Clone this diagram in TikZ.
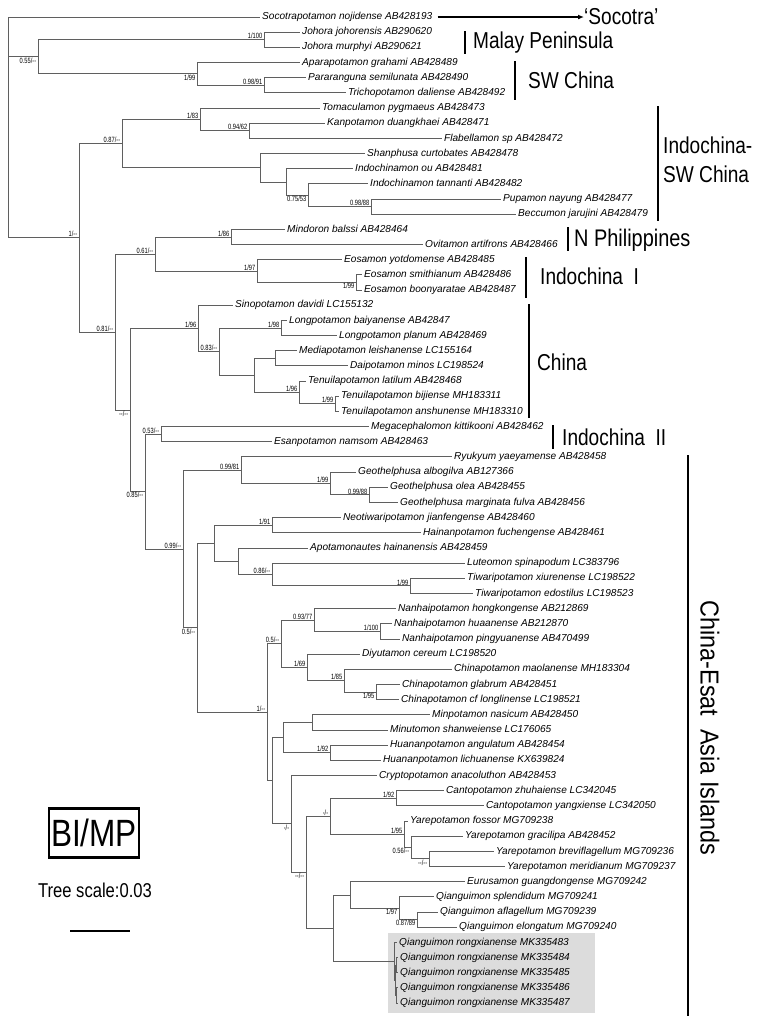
\documentclass[tikz,border=0pt]{standalone}
\usepackage{fontspec}
\setmainfont{Liberation Sans}
\newfontfamily\narrowsans[FakeStretch=0.83]{Liberation Sans}
\newfontfamily\widesans[FakeStretch=0.9]{Liberation Sans}
\newfontfamily\tinysans[FakeStretch=0.75]{Liberation Sans}
\usetikzlibrary{arrows.meta}
\definecolor{branchgray}{RGB}{95,95,95}
\definecolor{shadegray}{RGB}{220,220,220}

\begin{document}
\begin{tikzpicture}[x=1pt, y=-1pt,
  branch/.style={draw=branchgray, line width=0.9pt},
  taxon/.style={anchor=west, inner sep=2pt, text height=7.4pt, text depth=2.1pt,
    font=\fontsize{10.1}{12}\selectfont\itshape},
  support/.style={anchor=south east, inner sep=0.6pt, xshift=-1pt,
    font=\tinysans\fontsize{7.6}{8}\selectfont},
  supportbelow/.style={support, anchor=north east},
  region/.style={anchor=west, inner sep=0pt, font=\narrowsans\fontsize{23}{29}\selectfont},
  bar/.style={line width=2.4pt}]
  \useasboundingbox (0,0) rectangle (764,1021);
  % Shaded box behind the new sequences
  \fill[shadegray] (388,933) rectangle (595,1013);
  % Tips and taxon names
  \foreach \i/\x/\txt in {
    1/260/{Socotrapotamon nojidense AB428193},
    2/300/{Johora johorensis AB290620},
    3/300/{Johora murphyi AB290621},
    4/300/{Aparapotamon grahami AB428489},
    5/306/{Pararanguna semilunata AB428490},
    6/346/{Trichopotamon daliense AB428492},
    7/320/{Tomaculamon pygmaeus AB428473},
    8/325/{Kanpotamon duangkhaei AB428471},
    9/442/{Flabellamon sp AB428472},
    10/365/{Shanphusa curtobates AB428478},
    11/353/{Indochinamon ou AB428481},
    12/368/{Indochinamon tannanti AB428482},
    13/501/{Pupamon nayung AB428477},
    14/516/{Beccumon jarujini AB428479},
    15/285/{Mindoron balssi AB428464},
    16/423/{Ovitamon artifrons AB428466},
    17/342/{Eosamon yotdomense AB428485},
    18/362/{Eosamon smithianum AB428486},
    19/362/{Eosamon boonyaratae AB428487},
    20/233/{Sinopotamon davidi LC155132},
    21/287/{Longpotamon baiyanense AB42847},
    22/337/{Longpotamon planum AB428469},
    23/297/{Mediapotamon leishanense LC155164},
    24/348/{Daipotamon minos LC198524},
    25/306/{Tenuilapotamon latilum AB428468},
    26/339/{Tenuilapotamon bijiense MH183311},
    27/339/{Tenuilapotamon anshunense MH183310},
    28/369/{Megacephalomon kittikooni AB428462},
    29/272/{Esanpotamon namsom AB428463},
    30/452/{Ryukyum yaeyamense AB428458},
    31/356/{Geothelphusa albogilva AB127366},
    32/388/{Geothelphusa olea AB428455},
    33/398/{Geothelphusa marginata fulva AB428456},
    34/341/{Neotiwaripotamon jianfengense AB428460},
    35/421/{Hainanpotamon fuchengense AB428461},
    36/308/{Apotamonautes hainanensis AB428459},
    37/465/{Luteomon spinapodum LC383796},
    38/465/{Tiwaripotamon xiurenense LC198522},
    39/473/{Tiwaripotamon edostilus LC198523},
    40/396/{Nanhaipotamon hongkongense AB212869},
    41/392/{Nanhaipotamon huaanense AB212870},
    42/400/{Nanhaipotamon pingyuanense AB470499},
    43/360/{Diyutamon cereum LC198520},
    44/452/{Chinapotamon maolanense MH183304},
    45/400/{Chinapotamon glabrum AB428451},
    46/399/{Chinapotamon cf longlinense LC198521},
    47/430/{Minpotamon nasicum AB428450},
    48/388/{Minutomon shanweiense LC176065},
    49/388/{Huananpotamon angulatum AB428454},
    50/381/{Huananpotamon lichuanense KX639824},
    51/377/{Cryptopotamon anacoluthon AB428453},
    52/444/{Cantopotamon zhuhaiense LC342045},
    53/484/{Cantopotamon yangxiense LC342050},
    54/408/{Yarepotamon fossor MG709238},
    55/463/{Yarepotamon gracilipa AB428452},
    56/494/{Yarepotamon breviflagellum MG709236},
    57/505/{Yarepotamon meridianum MG709237},
    58/465/{Eurusamon guangdongense MG709242},
    59/434/{Qianguimon splendidum MG709241},
    60/438/{Qianguimon aflagellum MG709239},
    61/457/{Qianguimon elongatum MG709240},
    62/397/{Qianguimon rongxianense MK335483},
    63/398/{Qianguimon rongxianense MK335484},
    64/398/{Qianguimon rongxianense MK335485},
    65/398/{Qianguimon rongxianense MK335486},
    66/398/{Qianguimon rongxianense MK335487}}
  {
    \coordinate (t\i) at (\x, {17+(\i-1)*15.17});
    \node[taxon] (l\i) at (t\i) {\txt};
  }
  % Internal nodes
  \foreach \n/\x/\y in {root/8/127.4, n055/38/56.8, nJoh/264/39.7, nSW/197/73.9, nPT/264/85.3,
    n1/79/237.8, n087/122/143.6, n183/200/119.4, n094/249/130.8, nShan/260/167.7,
    nIndo/286/182.0, n075/308/195.3, n098/371/206.6,
    n081/115/332.0, n061/155/254.0, n186/231/237.0, n197/257/271.1, n199/356/282.5,
    nDD/130/410.0, nChina/198/328.5, n083/219/351.7, n198/281/328.0, nMT/254/375.4,
    nMD/275/358.3, nTen/299/392.5, nTen2/335/403.8,
    n085/145/491.6, n053/161/434.2, n099/183/549.0, nRG/241/470.2, nGeo/330/483.5,
    nGeo2/369/494.9, n05/197/627.7, nNH/214/543.2, n191/272/525.2, nAL/238/561.2,
    n086/272/574.5, nTiw/410/585.9,
    n1b/267/712.2, n05b/281/643.7, nNan/314/620.0, nNan2/380/631.4, n169/307/667.4,
    n185/344/680.7, n195/376/692.1, nX/272/780.7, nY/283/737.6, nMM/312/722.4,
    n192/330/752.8, nZ/291/823.9, nW/306/872.2, nCY/330/816.3, nCan/396/798.3,
    nYar/404/834.3, n056/411/847.6, nYar2/429/858.9, nV/333/928.2, nEQ/350/895.0,
    n197b/399/908.2, n087b/417/919.6, nRong/394/961.3, nR2/395/980.3,
    nR3/396.5/965.1, nR4/396.5/995.5}
    \coordinate (\n) at (\x,\y);
  % Branches
  \foreach \p/\c in {root/t1, root/n055, root/n1, n055/nJoh, n055/nSW, nJoh/t2, nJoh/t3,
    nSW/t4, nSW/nPT, nPT/t5, nPT/t6,
    n1/n087, n1/n081, n087/n183, n087/nShan, n183/t7, n183/n094, n094/t8, n094/t9,
    nShan/t10, nShan/nIndo, nIndo/t11, nIndo/n075, n075/t12, n075/n098, n098/t13, n098/t14,
    n081/n061, n081/nDD, n061/n186, n061/n197, n186/t15, n186/t16, n197/t17, n197/n199,
    n199/t18, n199/t19,
    nDD/nChina, nDD/n085, nChina/t20, nChina/n083, n083/n198, n083/nMT, n198/t21, n198/t22,
    nMT/nMD, nMT/nTen, nMD/t23, nMD/t24, nTen/t25, nTen/nTen2, nTen2/t26, nTen2/t27,
    n085/n053, n085/n099, n053/t28, n053/t29, n099/nRG, n099/n05, nRG/t30, nRG/nGeo,
    nGeo/t31, nGeo/nGeo2, nGeo2/t32, nGeo2/t33,
    n05/nNH, n05/n1b, nNH/n191, nNH/nAL, n191/t34, n191/t35, nAL/t36, nAL/n086,
    n086/t37, n086/nTiw, nTiw/t38, nTiw/t39,
    n1b/n05b, n1b/nX, n05b/nNan, n05b/n169, nNan/t40, nNan/nNan2, nNan2/t41, nNan2/t42,
    n169/t43, n169/n185, n185/t44, n185/n195, n195/t45, n195/t46,
    nX/nY, nX/nZ, nY/nMM, nY/n192, nMM/t47, nMM/t48, n192/t49, n192/t50,
    nZ/t51, nZ/nW, nW/nCY, nW/nV, nCY/nCan, nCY/nYar, nCan/t52, nCan/t53,
    nYar/t54, nYar/n056, n056/t55, n056/nYar2, nYar2/t56, nYar2/t57,
    nV/nEQ, nV/nRong, nEQ/t58, nEQ/n197b, n197b/t59, n197b/n087b, n087b/t60, n087b/t61,
    nRong/t62, nRong/nR2, nR2/nR3, nR2/nR4, nR3/t63, nR3/t64, nR4/t65, nR4/t66}
    \draw[branch] (\p) |- (\c);
  % Support values (BI/MP)
  \foreach \n/\s in {nJoh/{1/100}, nPT/{0.98/91}, n1/{1/--}, n087/{0.87/--}, n183/{1/83},
    n094/{0.94/62}, n098/{0.98/88}, n186/{1/86}, n061/{0.61/--}, n197/{1/97},
    n081/{0.81/--}, nChina/{1/96}, n198/{1/98}, n083/{0.83/--}, nTen/{1/96},
    nTen2/{1/99}, n053/{0.53/--}, nRG/{0.99/81}, nGeo/{1/99}, nGeo2/{0.99/88},
    n191/{1/91}, n099/{0.99/--}, n086/{0.86/--}, nTiw/{1/99}, nNan/{0.93/77},
    nNan2/{1/100}, n05b/{0.5/--}, n169/{1/69}, n185/{1/85}, n1b/{1/--}, n192/{1/92},
    nCan/{1/92}, nCY/{-/-}, nYar/{1/95}}
    \node[support] (s\n) at (\n) {\s};
  \foreach \n/\s in {n055/{0.55/--}, nSW/{1/99}, n075/{0.75/53}, n199/{1/99},
    nDD/{--/--}, n085/{0.85/--}, n05/{0.5/--}, n195/{1/95}, nZ/{-/-}, n056/{0.56/--},
    nYar2/{--/--}, nW/{--/--}, n197b/{1/97}, n087b/{0.87/89}}
    \node[supportbelow] (s\n) at (\n) {\s};
  % Regions
  \node[region] (socotra) at (584,17) {‘Socotra’};
  \draw[-{Latex[length=6pt,width=5pt]}, line width=1.8pt] (l1.east) ++(3,0) -- (socotra.west);
  \draw[bar] (465,31) -- (465,54);
  \node[region] (malay) at (473,43) {Malay Peninsula};
  \draw[bar] (515,61) -- (515,100);
  \node[region] (swchina) at (528,80) {SW China};
  \draw[bar] (658,106) -- (658,221);
  \node[region, align=left] (indosw) at (663,160) {Indochina-\\SW China};
  \draw[bar] (568,227) -- (568,251);
  \node[region, font=\narrowsans\fontsize{24}{29}\selectfont] (nphil) at (574,240) {N Philippines};
  \draw[bar] (526,257) -- (526,298);
  \node[region] (indoI) at (540,276) {Indochina\ \ I};
  \draw[bar] (529,304) -- (529,418);
  \node[region] (china) at (537,362) {China};
  \draw[bar] (553,425) -- (553,449);
  \node[region] (indoII) at (562,437) {Indochina\ \ II};
  \draw[bar] (688,455) -- (688,1016);
  \node[region, anchor=center, rotate=-90, font=\widesans\fontsize{26}{29}\selectfont]
    (eastasia) at (710,728) {China-Esat\ \ Asia Islands};
  % Legend
  \node[draw, line width=2.6pt, inner sep=0pt, minimum width=90pt, minimum height=49pt,
    font=\narrowsans\fontsize{38}{40}\selectfont] (bimp) at (94,833) {BI/MP};
  \node[font=\narrowsans\fontsize{20}{22}\selectfont] (treescale) at (95,890) {Tree scale:0.03};
  \draw[line width=1.4pt] (70,931) -- (130,931);
\end{tikzpicture}
\end{document}
